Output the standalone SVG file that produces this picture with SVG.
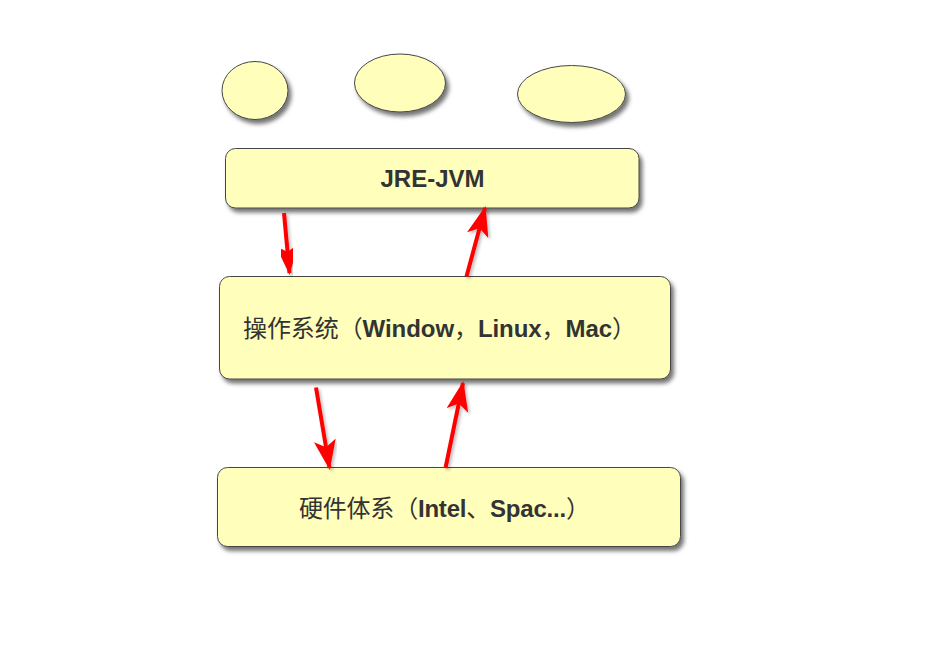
<svg xmlns="http://www.w3.org/2000/svg" width="932" height="649" viewBox="0 0 932 649">
<style>
.node{fill:#ffffbb;stroke:#454545;stroke-width:1;filter:url(#sh)}
.lbl{font-family:"Liberation Sans","Noto Sans CJK SC",sans-serif;font-weight:bold;fill:#333;font-size:24px}
.cn{font-family:"Noto Sans CJK SC",sans-serif;font-weight:normal}
.arr{stroke:#ff0000;stroke-width:4;fill:none;marker-end:url(#ah);filter:url(#ash)}
</style>
<defs>
<filter id="sh" x="-20%" y="-20%" width="140%" height="150%">
<feDropShadow dx="3" dy="4" stdDeviation="2" flood-color="#000" flood-opacity="0.55"/>
</filter>
<filter id="ash" x="-50%" y="-20%" width="200%" height="140%">
<feDropShadow dx="2" dy="2" stdDeviation="1.5" flood-color="#000" flood-opacity="0.25"/>
</filter>
<marker id="ah" markerUnits="userSpaceOnUse" markerWidth="30" markerHeight="22" refX="28" refY="11" orient="auto">
<path d="M0,0 L30,11 L0,22 L7,11 z" fill="#ff0000"/>
</marker>
</defs>
<rect width="932" height="649" fill="#fff"/>
<g id="ellipse1"><ellipse class="node" cx="255" cy="90.5" rx="33" ry="29"/></g>
<g id="ellipse2"><ellipse class="node" cx="400" cy="83" rx="45.5" ry="29"/></g>
<g id="ellipse3"><ellipse class="node" cx="571.5" cy="94" rx="54" ry="28.5"/></g>
<g id="jre">
<rect class="node" x="225.5" y="148.5" width="413.5" height="59.5" rx="10"/>
<text class="lbl" x="432.5" y="187" text-anchor="middle">JRE-JVM</text>
</g>
<g id="os">
<rect class="node" x="219.5" y="276.5" width="451" height="102.5" rx="10"/>
<text class="lbl" x="243" y="337" textLength="393" lengthAdjust="spacing"><tspan class="cn">操作系统（</tspan>Window<tspan class="cn">，</tspan>Linux<tspan class="cn">，</tspan>Mac<tspan class="cn">）</tspan></text>
</g>
<g id="hw">
<rect class="node" x="217.5" y="467.5" width="463" height="79" rx="10"/>
<text class="lbl" x="299" y="516.5" textLength="291" lengthAdjust="spacing"><tspan class="cn">硬件体系（</tspan>Intel<tspan class="cn">、</tspan>Spac...<tspan class="cn">）</tspan></text>
</g>
<g id="connectors">
<line class="arr" x1="284" y1="213" x2="289.5" y2="273"/>
<line class="arr" x1="466.5" y1="276.5" x2="485" y2="208"/>
<line class="arr" x1="316" y1="387.5" x2="329.5" y2="468"/>
<line class="arr" x1="445.5" y1="468" x2="463" y2="383"/>
</g>
</svg>
